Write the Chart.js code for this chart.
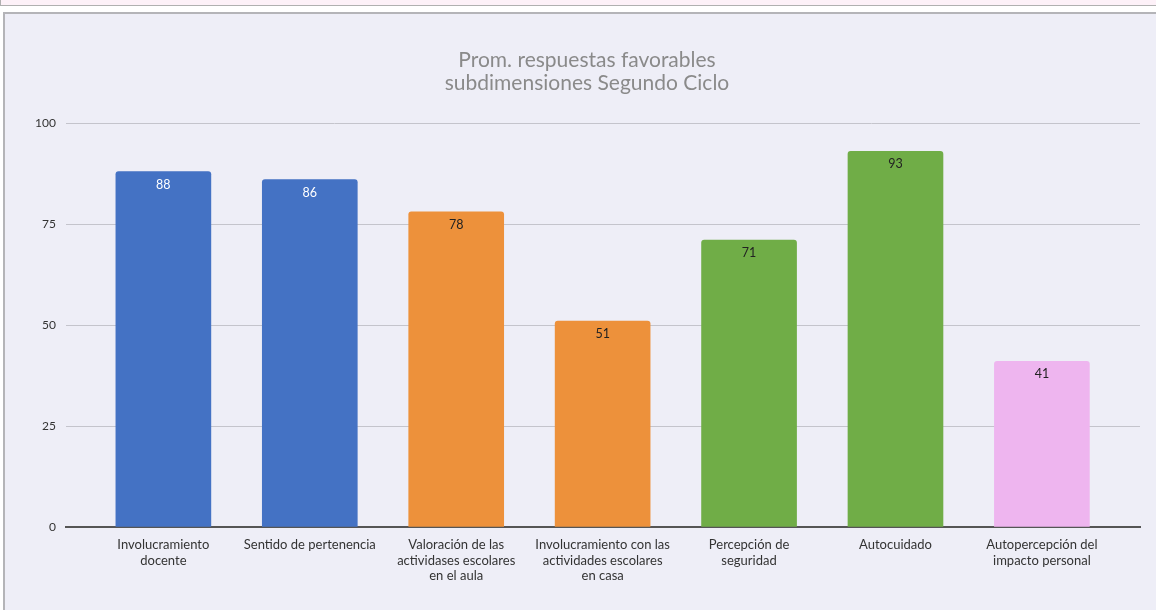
<!DOCTYPE html>
<html>
<head>
<meta charset="utf-8">
<script src="https://cdn.jsdelivr.net/npm/chart.js@4/dist/chart.umd.min.js"></script>
<style>
  html, body { margin: 0; padding: 0; width: 1156px; height: 610px; overflow: hidden; background: #ffffff; }
  #topstrip { position: absolute; left: 0; top: 0; width: 1156px; height: 5px; background: #FDF1F8; border-left: 1px solid #b0b0b0; border-bottom: 1px solid #b0b0b0; }
  #frame { position: absolute; left: 3px; top: 12px; width: 1160px; height: 610px; background: #EEEEF7; border-left: 2px solid #b4b4b8; border-top: 2px solid #b4b4b8; }
  #c { position: absolute; left: 0; top: 0; }
</style>
</head>
<body>
<div id="topstrip"></div>
<div id="frame"></div>
<canvas id="c" width="1156" height="610"></canvas>
<script>
const categories = [
  ["Involucramiento", "docente"],
  ["Sentido de pertenencia"],
  ["Valoración de las", "actividases escolares", "en el aula"],
  ["Involucramiento con las", "actividades escolares", "en casa"],
  ["Percepción de", "seguridad"],
  ["Autocuidado"],
  ["Autopercepción del", "impacto personal"]
];
const values = [88, 86, 78, 51, 71, 93, 41];
const barColors = ["#4472C4", "#4472C4", "#ED913B", "#ED913B", "#70AD47", "#70AD47", "#EEB5EF"];
const labelColors = ["#ffffff", "#ffffff", "#222222", "#222222", "#222222", "#222222", "#222222"];
const yTicks = [0, 25, 50, 75, 100];
const titleLines = ["Prom. respuestas favorables", "subdimensiones Segundo Ciclo"];

const FONT = "Lato, 'Open Sans', sans-serif";

const valueLabels = {
  id: 'valueLabels',
  afterDatasetsDraw(chart) {
    const ctx = chart.ctx;
    const meta = chart.getDatasetMeta(0);
    ctx.save();
    ctx.font = "12.5px " + FONT;
    ctx.textAlign = 'center';
    ctx.textBaseline = 'middle';
    meta.data.forEach((bar, i) => {
      ctx.fillStyle = labelColors[i];
      ctx.fillText(String(values[i]), bar.x, bar.y + 13);
    });
    ctx.restore();
  }
};

new Chart(document.getElementById('c'), {
  type: 'bar',
  data: {
    datasets: [{
      data: values.map((v, i) => ({ x: i, y: v })),
      backgroundColor: barColors,
      borderRadius: { topLeft: 3, topRight: 3, bottomLeft: 0, bottomRight: 0 },
      borderSkipped: 'bottom',
      barThickness: 95
    }]
  },
  options: {
    responsive: false,
    animation: false,
    devicePixelRatio: 1,
    layout: { padding: { left: 34, right: 16, top: 0, bottom: 0 } },
    plugins: {
      legend: { display: false },
      tooltip: { enabled: false },
      title: {
        display: true,
        text: titleLines,
        color: '#8a8a8a',
        font: { family: FONT, size: 21, weight: 'normal', lineHeight: 1.12 },
        padding: { top: 48, bottom: 28 }
      }
    },
    scales: {
      x: {
        type: 'linear',
        offset: false,
        min: -0.665,
        max: 6.67,
        afterBuildTicks(scale) { scale.ticks = categories.map((_, i) => ({ value: i })); },
        afterFit(scale) { scale.height = 83; },
        grid: { display: false, drawTicks: false, offset: false },
        border: { display: true, color: '#555555', width: 2 },
        ticks: {
          autoSkip: false,
          maxRotation: 0,
          padding: 10,
          color: '#333333',
          font: { family: FONT, size: 13, lineHeight: 1.2 },
          callback: (v) => categories[v]
        }
      },
      y: {
        min: 0,
        max: 100,
        afterBuildTicks(scale) { scale.ticks = yTicks.map(v => ({ value: v })); },
        afterFit(scale) { scale.width = 32; },
        grid: { color: '#c4c4cc', lineWidth: 1, drawTicks: false },
        border: { display: false },
        ticks: {
          padding: 10,
          color: '#333333',
          font: { family: FONT, size: 12 }
        }
      }
    }
  },
  plugins: [valueLabels]
});
</script>
</body>
</html>
